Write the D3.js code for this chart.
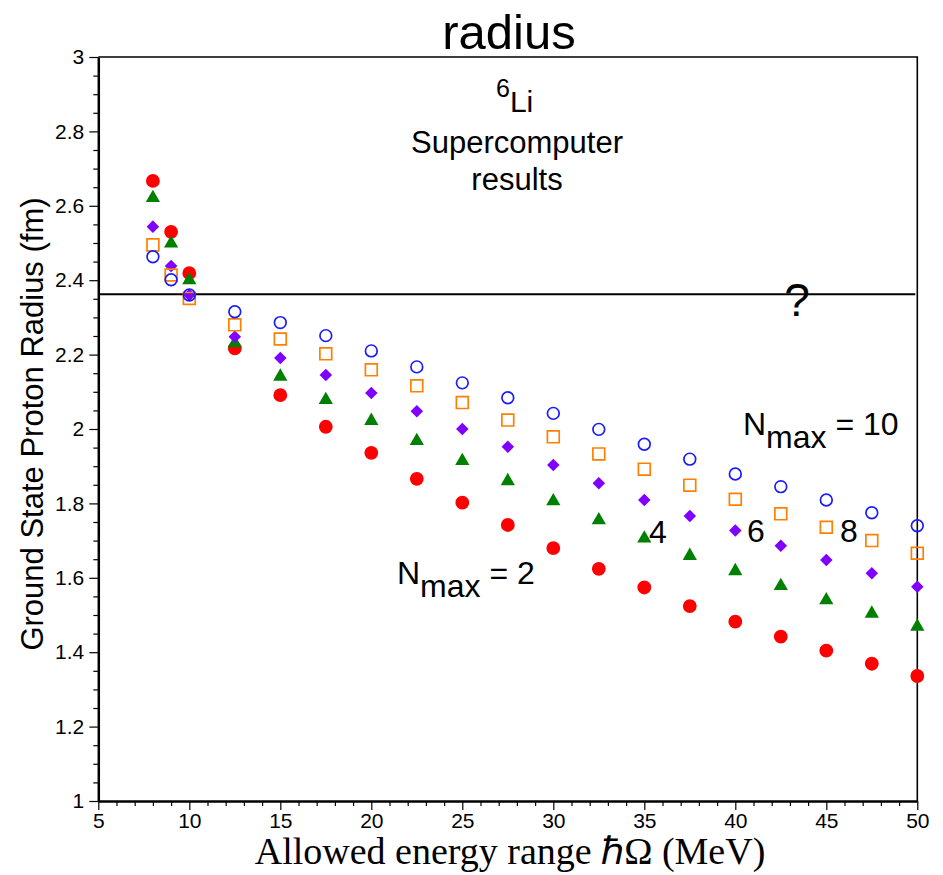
<!DOCTYPE html>
<html>
<head>
<meta charset="utf-8">
<script src="https://cdn.jsdelivr.net/npm/d3@7"></script>
<style>
  body { margin: 0; background: #fff; }
  svg text { font-family: "Liberation Sans", Arial, sans-serif; fill: #000; }
</style>
</head>
<body>
<svg id="chart" width="943" height="875"></svg>
<script>
// oscillator energies (MeV)
const hbarOmega = [8, 9, 10, 12.5, 15, 17.5, 20, 22.5, 25, 27.5, 30, 32.5, 35, 37.5, 40, 42.5, 45, 47.5, 50]

// ground state proton radius (fm), one list per Nmax
const nmax2  = [2.667, 2.530, 2.419, 2.217, 2.091, 2.006, 1.936, 1.866, 1.802, 1.742, 1.680, 1.624, 1.574, 1.524, 1.482, 1.442, 1.404, 1.369, 1.336]
const nmax4  = [2.621, 2.499, 2.400, 2.231, 2.141, 2.078, 2.022, 1.968, 1.914, 1.860, 1.806, 1.755, 1.706, 1.659, 1.618, 1.578, 1.540, 1.504, 1.469]
const nmax6  = [2.544, 2.438, 2.360, 2.248, 2.191, 2.145, 2.097, 2.048, 2.000, 1.952, 1.903, 1.854, 1.809, 1.766, 1.727, 1.686, 1.648, 1.612, 1.576]
const nmax8  = [2.495, 2.414, 2.351, 2.280, 2.242, 2.202, 2.159, 2.116, 2.071, 2.024, 1.979, 1.933, 1.892, 1.849, 1.811, 1.772, 1.736, 1.700, 1.666]
const nmax10 = [2.463, 2.401, 2.360, 2.315, 2.286, 2.251, 2.210, 2.167, 2.124, 2.084, 2.042, 1.999, 1.959, 1.919, 1.879, 1.845, 1.809, 1.775, 1.740]

// experimental radius (the "?" line)
const expRadius = 2.362

const xTicks = [5, 10, 15, 20, 25, 30, 35, 40, 45, 50]
const yTicks = [1, 1.2, 1.4, 1.6, 1.8, 2, 2.2, 2.4, 2.6, 2.8, 3]

const svg = d3.select("#chart")

const x = d3.scaleLinear().domain([5, 50]).range([98.3, 917.3])
const y = d3.scaleLinear().domain([1, 3]).range([801, 57])

// minor ticks
const xMinor = d3.range(5, 51, 1).filter(v => v % 5 !== 0)
const yMinor = d3.range(20, 61, 1).map(v => v / 20).filter(v => Math.round(v * 100) % 20 !== 0)

svg.append("g")
    .attr("transform", `translate(0,${y(1)})`)
    .call(d3.axisBottom(x).tickValues(xMinor).tickSize(5).tickSizeOuter(0).tickFormat(""))
    .call(g => g.select(".domain").remove())
svg.append("g")
    .attr("transform", `translate(${x(5)},0)`)
    .call(d3.axisLeft(y).tickValues(yMinor).tickSize(5).tickSizeOuter(0).tickFormat(""))
    .call(g => g.select(".domain").remove())

// major ticks + labels
let xAxis = svg.append("g")
    .attr("transform", `translate(0,${y(1)})`)
    .call(d3.axisBottom(x).tickValues(xTicks).tickSize(9).tickPadding(3).tickSizeOuter(0).tickFormat(d => d))
let yAxis = svg.append("g")
    .attr("transform", `translate(${x(5)},0)`)
    .call(d3.axisLeft(y).tickValues(yTicks).tickSize(9).tickPadding(5).tickSizeOuter(0).tickFormat(d => d))

svg.selectAll(".tick line").attr("stroke", "#000").attr("stroke-width", 1.2)
svg.selectAll(".tick text")
    .attr("font-size", 21)
    .attr("font-family", "Liberation Sans, Arial, sans-serif")
    .attr("fill", "#000")
xAxis.select(".domain").attr("stroke-width", 2.5)
yAxis.select(".domain").attr("stroke-width", 2.5)

// frame (top and right)
svg.append("path")
    .attr("d", `M${x(5)},${y(3)}H${x(50)}V${y(1)}`)
    .attr("fill", "none")
    .attr("stroke", "#000")
    .attr("stroke-width", 1.6)

// experimental line
svg.append("line")
    .attr("x1", x(5)).attr("x2", x(50) - 2)
    .attr("y1", y(expRadius)).attr("y2", y(expRadius))
    .attr("stroke", "#000")
    .attr("stroke-width", 2)

// series
const series = [
    { name: "2",  values: nmax2,  type: d3.symbolCircle,   size: 150, fill: "#ff0000", stroke: "none" },
    { name: "4",  values: nmax4,  type: d3.symbolTriangle, size: 88,  fill: "#008000", stroke: "none" },
    { name: "6",  values: nmax6,  type: d3.symbolDiamond2, size: 100, fill: "#7f00ff", stroke: "none" },
    { name: "8",  values: nmax8,  type: d3.symbolSquare,   size: 140, fill: "none",    stroke: "#ff8000" },
    { name: "10", values: nmax10, type: d3.symbolCircle,   size: 108, fill: "none",    stroke: "#1a1aff" }
]

series.forEach(s => {
    svg.append("g")
        .selectAll("path")
        .data(hbarOmega.map((h, i) => [h, s.values[i]]))
        .join("path")
        .attr("transform", d => `translate(${x(d[0])},${y(d[1])})`)
        .attr("d", d3.symbol().type(s.type).size(s.size))
        .attr("fill", s.fill)
        .attr("stroke", s.stroke)
        .attr("stroke-width", 1.7)
})

// title
svg.append("text")
    .attr("x", 509).attr("y", 49)
    .attr("text-anchor", "middle")
    .attr("font-size", 49)
    .text("radius")

// 6Li label
let li = svg.append("text").attr("x", 496).attr("y", 97)
li.append("tspan").attr("font-size", 25).text("6")
li.append("tspan").attr("font-size", 30).attr("dy", 15).text("Li")

svg.append("text")
    .attr("x", 517).attr("y", 153)
    .attr("text-anchor", "middle")
    .attr("font-size", 31)
    .text("Supercomputer")
svg.append("text")
    .attr("x", 517).attr("y", 190)
    .attr("text-anchor", "middle")
    .attr("font-size", 31)
    .text("results")

svg.append("text")
    .attr("x", 797).attr("y", 316)
    .attr("text-anchor", "middle")
    .attr("font-size", 46)
    .text("?")

// Nmax labels
function nmaxLabel(px, py, val) {
    let t = svg.append("text").attr("x", px).attr("y", py).attr("font-size", 32)
    t.append("tspan").text("N")
    t.append("tspan").attr("dy", 13).text("max")
    t.append("tspan").attr("dy", -13).text(" = " + val)
}
nmaxLabel(743, 435, "10")
nmaxLabel(397, 584, "2")

svg.append("text").attr("x", 649).attr("y", 543).attr("font-size", 32).text("4")
svg.append("text").attr("x", 747).attr("y", 542).attr("font-size", 32).text("6")
svg.append("text").attr("x", 840).attr("y", 542).attr("font-size", 32).text("8")

// axis titles
svg.append("text")
    .attr("transform", "translate(43,424) rotate(-90)")
    .attr("text-anchor", "middle")
    .attr("font-size", 31)
    .text("Ground State Proton Radius (fm)")

svg.append("text")
    .attr("x", 510).attr("y", 864)
    .attr("text-anchor", "middle")
    .attr("font-size", 38)
    .style("font-family", "Liberation Serif, Times New Roman, serif")
    .text("Allowed energy range \u210FΩ (MeV)")
</script>
</body>
</html>
